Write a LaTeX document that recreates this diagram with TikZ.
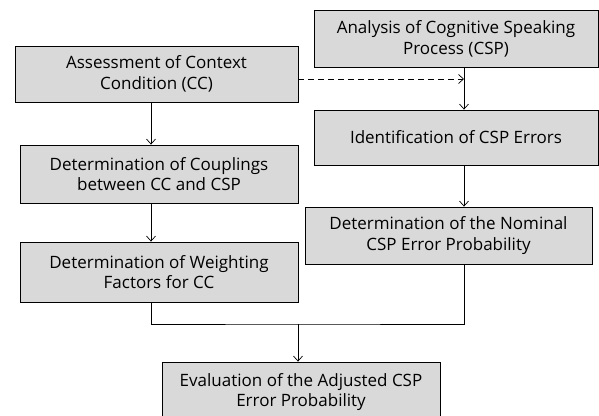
\documentclass[tikz,border=0pt]{standalone}
\usepackage{fontspec}
\setmainfont{Open Sans}
\usetikzlibrary{calc, positioning, arrows.meta}

\tikzset{
    stepbox/.style={draw, fill=black!15, align=center, inner sep=0pt, line width=0.8pt, font=\fontsize{17}{20.7}\selectfont},
    flow/.style={line width=0.7pt, -{Straight Barb[length=5pt, width=9pt]}}
}

\begin{document}
\begin{tikzpicture}[x=1pt, y=-1pt]
            \useasboundingbox (0, 0) rectangle (599, 415);
            \node[stepbox, minimum width=283pt, minimum height=56pt] (cc) at (156.5, 74) {Assessment of Context\\Condition (CC)};
            \node[stepbox, minimum width=278pt, minimum height=58pt] (coup) at (159, 174) {Determination of Couplings\\between CC and CSP};
            \node[stepbox, minimum width=278pt, minimum height=60pt] (weight) at (159, 272) {Determination of Weighting\\Factors for CC};
            \node[stepbox, minimum width=284pt, minimum height=57pt] (csp) at (456, 38.5) {Analysis of Cognitive Speaking\\Process (CSP)};
            \node[stepbox, minimum width=284pt, minimum height=55pt] (err) at (456, 137.5) {Identification of CSP Errors};
            \node[stepbox, minimum width=287pt, minimum height=57pt] (nom) at (448.5, 235.5) {Determination of the Nominal\\CSP Error Probability};
            \node[stepbox, minimum width=278pt, minimum height=60pt] (eval) at (301, 392) {Evaluation of the Adjusted CSP\\Error Probability};
            \coordinate (join) at (464, 79);
            \coordinate (merge) at (298, 324);
            \draw[flow] ([xshift=-5.5pt]cc.south) -- ([xshift=-8pt]coup.north);
            \draw[flow] ([xshift=-8pt]coup.south) -- ([xshift=-8pt]weight.north);
            \draw[flow] ([xshift=8pt]csp.south) -- ([xshift=8pt]err.north);
            \draw[flow] ([xshift=8pt]err.south) -- ([xshift=15.5pt]nom.north);
            \draw[flow, dashed, dash pattern=on 6pt off 4pt] (cc.east |- join) -- (join);
            \draw[line width=0.7pt] ([xshift=-8pt]weight.south) |- (merge) -| ([xshift=15.5pt]nom.south);
            \draw[flow] (merge) -- (merge |- eval.north);
        \end{tikzpicture}
\end{document}
